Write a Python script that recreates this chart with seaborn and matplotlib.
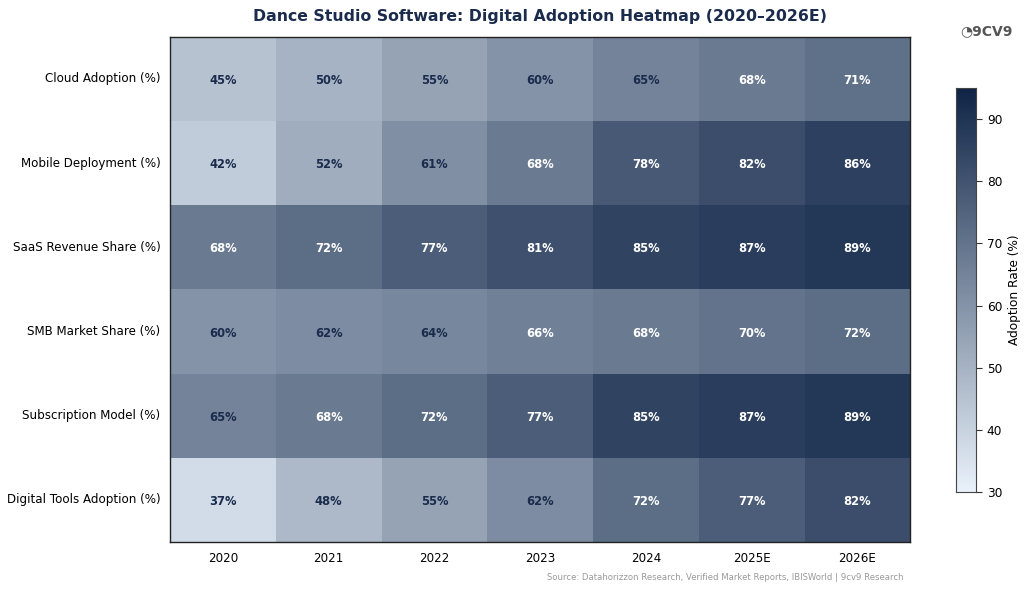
import numpy as np
import pandas as pd
import matplotlib
matplotlib.use("Agg")
import matplotlib.pyplot as plt
import seaborn as sns
from matplotlib.colors import LinearSegmentedColormap

# data
metrics = ["Cloud Adoption (%)", "Mobile Deployment (%)", "SaaS Revenue Share (%)",
           "SMB Market Share (%)", "Subscription Model (%)", "Digital Tools Adoption (%)"]
years = ["2020", "2021", "2022", "2023", "2024", "2025E", "2026E"]

cloud = [45, 50, 55, 60, 65, 68, 71]
mobile = [42, 52, 61, 68, 78, 82, 86]
saas = [68, 72, 77, 81, 85, 87, 89]
smb = [60, 62, 64, 66, 68, 70, 72]
subscription = [65, 68, 72, 77, 85, 87, 89]
digital_tools = [37, 48, 55, 62, 72, 77, 82]

df = pd.DataFrame([cloud, mobile, saas, smb, subscription, digital_tools],
                  index=metrics, columns=years)

sns.set_style("white")
plt.rcParams["text.color"] = "black"
plt.rcParams["xtick.color"] = "black"
plt.rcParams["ytick.color"] = "black"
plt.rcParams["axes.labelcolor"] = "black"

navy = "#1a2b4c"
cmap = LinearSegmentedColormap.from_list("navy", ["#e9f2fb", "#0f2446"])

fig = plt.figure(figsize=(10.24, 5.93), dpi=100)
ax = fig.add_axes([0.166, 0.086, 0.723, 0.852])
cax = fig.add_axes([0.934, 0.170, 0.0195, 0.682])

sns.heatmap(df, ax=ax, cbar_ax=cax, cmap=cmap, vmin=30, vmax=95,
            annot=False, linewidths=0)

for i, row in enumerate(df.values):
    for j, v in enumerate(row):
        ax.text(j + 0.5, i + 0.5 + 0.02, f"{v}%", ha="center", va="center",
                fontsize=8.3, fontweight="bold",
                color="white" if v > 65 else navy)

for s in ax.spines.values():
    s.set_visible(True)
    s.set_color("#222222")
    s.set_linewidth(1)

ax.tick_params(axis="both", length=4.5, width=0.8, color="#333333",
               labelsize=8.6, pad=2.5)
ax.set_yticklabels(metrics, rotation=0)
ax.set_xticklabels(years, rotation=0)
ax.set_xlabel("")
ax.set_ylabel("")

cax.tick_params(labelsize=8.7, length=4, color="#333333")
cax.set_yticks([30, 40, 50, 60, 70, 80, 90])
cax.set_ylabel("Adoption Rate (%)", fontsize=8.7)
for s in cax.spines.values():
    s.set_visible(True)
    s.set_color("#444444")

fig.suptitle("Dance Studio Software: Digital Adoption Heatmap (2020–2026E)",
             x=0.527, y=0.985, fontsize=11.3, fontweight="bold", color=navy)

fig.text(0.882, 0.018, "Source: Datahorizzon Research, Verified Market Reports, IBISWorld | 9cv9 Research",
         ha="right", va="bottom", fontsize=6.1, color="#999999")

fig.text(0.963, 0.948, "◔9CV9", ha="center", va="center", fontsize=10,
         fontweight="bold", color="#555555")

fig.savefig("out.png", dpi=100)
